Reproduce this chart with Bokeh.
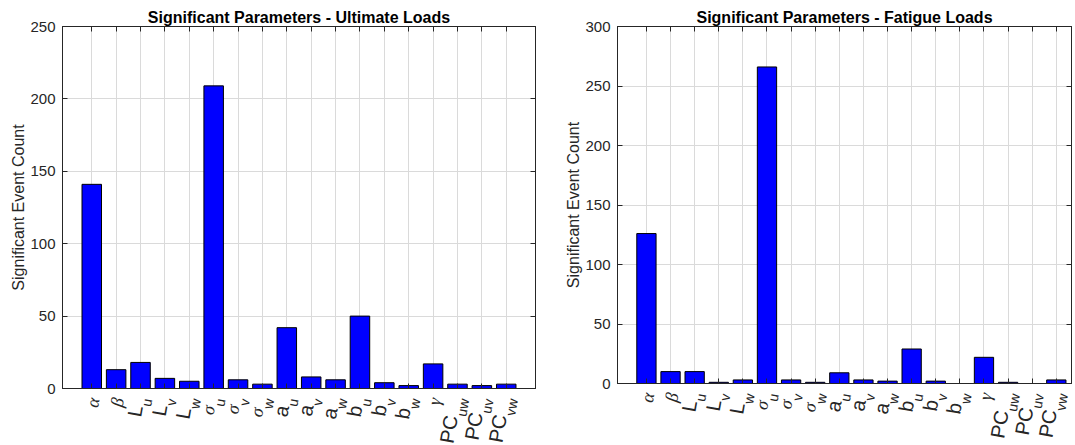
import numpy as np
from bokeh.plotting import figure
from bokeh.models import ColumnDataSource, LabelSet, LinearAxis, FixedTicker, Range1d
from bokeh.layouts import row, column
from bokeh.embed import file_html
from bokeh.resources import INLINE
from bokeh.core.properties import value

## data ##

# tick labels are split into a base symbol and a subscript
label_main = ["α", "β", "L", "L", "L", "σ", "σ", "σ", "a", "a", "a",
              "b", "b", "b", "γ", "PC", "PC", "PC"]
label_sub = ["", "", "u", "v", "w", "u", "v", "w", "u", "v", "w",
             "u", "v", "w", "", "uw", "uv", "vw"]

ultimate_counts = [141, 13, 18, 7, 5, 209, 6, 3, 42, 8, 6, 50, 4, 2, 17, 3, 2, 3]
fatigue_counts = [126, 10, 10, 1, 3, 266, 3, 1, 9, 3, 2, 29, 2, 0, 22, 1, 0, 3]

ultimate_ticks = [0, 50, 100, 150, 200, 250]
fatigue_ticks = [0, 50, 100, 150, 200, 250, 300]

## style ##

INK = "#262626"
GRID = "#dadada"
SANS = "Liberation Sans"
SERIF = "Liberation Serif"
ANGLE = 80
MAIN_SIZE = 20
GREEK_SIZE = 18
SUB_SIZE = 14
# advance widths (em) of the subscript letters
SUB_W = {"u": 0.556, "v": 0.5, "w": 0.722}
GREEK = {"α", "β", "σ", "γ"}
BELOW = 8   # room under the chart frame for the "0" tick label


def label_strip(x_range, width, height, border_left, border_right):
    # rotated tick labels with subscripts; they live in a strip under the chart
    # so that they are not clipped by the chart's frame (1 y unit = 1 px, 0 = axis)
    p = figure(width=width, height=height, output_backend="svg", toolbar_location=None,
               x_range=x_range, y_range=Range1d(-(height + BELOW), -BELOW),
               min_border_left=border_left, min_border_right=border_right,
               min_border_top=0, min_border_bottom=0,
               background_fill_color="white", border_fill_color="white")
    p.axis.visible = False
    p.grid.visible = False
    p.outline_line_color = None

    th = np.radians(ANGLE)
    d = (np.cos(th), np.sin(th))     # along the text
    n = (-np.sin(th), np.cos(th))    # "up" of the text
    gap = 9
    groups = {k: dict(x=[], y=[], xo=[], yo=[], text=[]) for k in ("greek", "latin", "sub")}
    for i, (m, s) in enumerate(zip(label_main, label_sub)):
        xpos = i + 1
        if s:
            w = sum(SUB_W[c] for c in s) * SUB_SIZE + 1
            mp, sp = 3.0, -7.0
            g = groups["sub"]
            g["x"].append(xpos); g["y"].append(0)
            g["xo"].append(sp * n[0]); g["yo"].append(-gap + sp * n[1])
            g["text"].append(s)
        else:
            w, mp = 0, -2.0
        g = groups["greek" if m in GREEK else "latin"]
        g["x"].append(xpos); g["y"].append(0)
        g["xo"].append(-w * d[0] + mp * n[0]); g["yo"].append(-gap - w * d[1] + mp * n[1])
        g["text"].append(m)

    fonts = {"greek": (SERIF, GREEK_SIZE, "italic"),
             "latin": (SANS, MAIN_SIZE, "normal"),
             "sub": (SANS, SUB_SIZE, "normal")}
    for key, data in groups.items():
        font, size, style = fonts[key]
        labels = LabelSet(x="x", y="y", x_offset="xo", y_offset="yo", text="text",
                          source=ColumnDataSource(data), angle=ANGLE, angle_units="deg",
                          text_align="right", text_baseline="middle",
                          text_font=value(font), text_font_size=f"{size}px",
                          text_font_style=style, text_color=INK)
        p.add_layout(labels)
    return p


def make_panel(title, counts, yticks, width, frame_bottom, x_end, border_left, border_right,
               total_height, title_offset=0):
    p = figure(width=width, height=frame_bottom + BELOW, output_backend="svg",
               toolbar_location=None,
               x_range=Range1d(-0.2, x_end), y_range=Range1d(0, yticks[-1]),
               min_border_left=border_left, min_border_right=border_right,
               min_border_top=26, min_border_bottom=BELOW,
               background_fill_color="white", border_fill_color="white")

    xs = list(range(1, len(counts) + 1))
    p.vbar(x=xs, top=counts, width=0.8, fill_color="#0000ff",
           line_color="black", line_width=1)

    p.title.text = title
    p.title.align = "center"
    p.title.vertical_align = "middle"
    p.title.text_font = SANS
    p.title.text_font_size = "16px"
    p.title.text_font_style = "bold"
    p.title.text_color = "black"
    p.title.standoff = 0
    p.title.offset = title_offset

    xt = FixedTicker(ticks=xs)
    yt = FixedTicker(ticks=yticks)

    p.xaxis.ticker = xt
    p.xaxis.major_label_text_font_size = "0px"
    p.xaxis.major_label_text_color = None
    p.xaxis.major_label_standoff = 0

    p.yaxis.ticker = yt
    p.yaxis.axis_label = "Significant Event Count"
    p.yaxis.axis_label_text_font = SANS
    p.yaxis.axis_label_text_font_size = "16px"
    p.yaxis.axis_label_text_font_style = "normal"
    p.yaxis.axis_label_text_color = INK
    p.yaxis.axis_label_standoff = 0
    p.yaxis.major_label_text_font = SANS
    p.yaxis.major_label_text_font_size = "15px"
    p.yaxis.major_label_text_color = INK
    p.yaxis.major_label_standoff = 7

    for ax in (p.xaxis[0], p.yaxis[0]):
        ax.major_tick_in = 5
        ax.major_tick_out = 0
        ax.minor_tick_in = 0
        ax.minor_tick_out = 0
        ax.axis_line_color = INK
        ax.major_tick_line_color = INK

    # box ticks on top and right, as in the original
    for loc, tk in (("right", yt), ("above", xt)):
        ax = LinearAxis(ticker=tk, major_tick_in=5, major_tick_out=0,
                        minor_tick_in=0, minor_tick_out=0,
                        major_label_text_font_size="0px", major_label_text_color=None,
                        major_label_standoff=0, axis_line_color=INK,
                        major_tick_line_color=INK)
        p.add_layout(ax, loc)

    p.xgrid.grid_line_color = GRID
    p.ygrid.grid_line_color = GRID
    p.outline_line_color = INK

    strip = label_strip(p.x_range, width, total_height - frame_bottom - BELOW,
                        border_left, border_right)
    return column(p, strip)


left = make_panel("Significant Parameters - Ultimate Loads", ultimate_counts,
                  ultimate_ticks, 555, 388, 19.2, 62, 20, 444)
right = make_panel("Significant Parameters - Fatigue Loads", fatigue_counts,
                   fatigue_ticks, 519, 383, 18.63, 62, 3, 444, title_offset=5)

layout = row(left, right)
open("out.html", "w").write(file_html(layout, INLINE))
